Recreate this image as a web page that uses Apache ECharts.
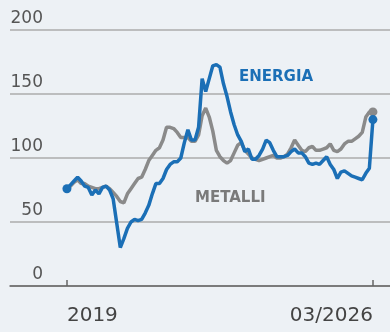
<!DOCTYPE html>
<html>
<head>
<meta charset="utf-8">
<script src="https://cdn.jsdelivr.net/npm/echarts@6/dist/echarts.min.js"></script>
<style>
html,body{margin:0;padding:0;background:#edf1f5;}
#c{width:390px;height:332px;}
</style>
</head>
<body>
<div id="c"></div>
<script>
// Monthly index: 0 = 01/2019 ... 86 = 03/2026
var tickPositions = [0, 86];
var tickLabels = ['2019', '03/2026'];
var yTicks = [0, 50, 100, 150, 200];

var energia = [76,79,82,85,82,78,77,71,75,72,77,78,75,68,49,30,37,45,50,52,
  51,52,57,63,72,80,80,84,91,95,97,97,100,112,122,114,114,124,162,152,
  162,172,173,171,158,148,136,126,118,113,105,107,99,99,102,107,114,112,106,101,
  101,101,102,105,107,104,104,101,96,95,96,95,98,101,95,91,84,89,90,88,
  86,85,84,83,88,92,130];

var metalli = [76,78,81,83,80,80,78,77,76,76,77,78,76,73,70,66,65,72,76,80,
  84,85,91,98,102,106,108,114,124,124,123,120,116,116,116,113,113,118,133,139,
  132,121,106,101,98,96,98,104,110,112,106,103,100,99,98,99,100,101,102,100,
  100,101,103,108,114,110,106,105,108,109,106,106,107,108,111,106,105,107,111,113,
  113,115,117,120,132,136,136];

function toPairs(arr, color, first) {
  return arr.map(function (v, i) {
    var item = { value: [i, v] };
    if (i === arr.length - 1 || (first && i === 0)) {
      item.symbol = 'circle';
      item.symbolSize = 9;
      item.itemStyle = { color: color };
    }
    return item;
  });
}

var BLUE = '#1b6fb6';
var GREY = '#8a8a8a';

var chart = echarts.init(document.getElementById('c'), null, { renderer: 'canvas' });
chart.setOption({
  backgroundColor: '#edf1f5',
  animation: false,
  textStyle: { fontFamily: 'DejaVu Sans' },
  grid: { left: 10, right: 0, top: 30, bottom: 46, containLabel: false },
  xAxis: {
    type: 'value',
    min: -16,
    max: 90.8,
    splitLine: { show: false },
    axisLine: { show: true, lineStyle: { color: '#666', width: 1.5 } },
    axisTick: { show: true, inside: true, length: 6, customValues: tickPositions, lineStyle: { color: '#666', width: 1.5 } },
    axisLabel: {
      customValues: tickPositions,
      margin: 20,
      fontSize: 20,
      color: '#444',
      fontFamily: 'DejaVu Sans',
      alignMinLabel: 'left',
      alignMaxLabel: 'right',
      formatter: function (v) {
        var k = tickPositions.indexOf(Math.round(v));
        return k >= 0 ? tickLabels[k] : '';
      }
    }
  },
  yAxis: {
    type: 'value',
    min: 0,
    max: 200,
    interval: 50,
    axisLine: { show: false },
    axisTick: { show: false },
    splitLine: { show: true, lineStyle: { color: '#ababab', width: 1.5 } },
    axisLabel: {
      inside: true,
      margin: 33,
      align: 'right',
      verticalAlign: 'bottom',
      padding: [0, 0, 3, 0],
      fontSize: 17,
      color: '#555',
      fontFamily: 'DejaVu Sans'
    }
  },
  graphic: [
    { type: 'text', left: 239, top: 70, style: { text: 'ENERGIA', fill: BLUE, font: 'bold 15px "DejaVu Sans"' } },
    { type: 'text', left: 195, top: 191, style: { text: 'METALLI', fill: '#7a7a7a', font: 'bold 15px "DejaVu Sans"' } }
  ],
  series: [
    {
      name: 'METALLI', type: 'line', symbol: 'none', z: 2,
      lineStyle: { color: GREY, width: 3.5 }, itemStyle: { color: GREY },
      data: toPairs(metalli, GREY, false)
    },
    {
      name: 'ENERGIA', type: 'line', symbol: 'none', z: 3,
      lineStyle: { color: BLUE, width: 3.5 }, itemStyle: { color: BLUE },
      data: toPairs(energia, BLUE, true)
    }
  ]
});
</script>
</body>
</html>
